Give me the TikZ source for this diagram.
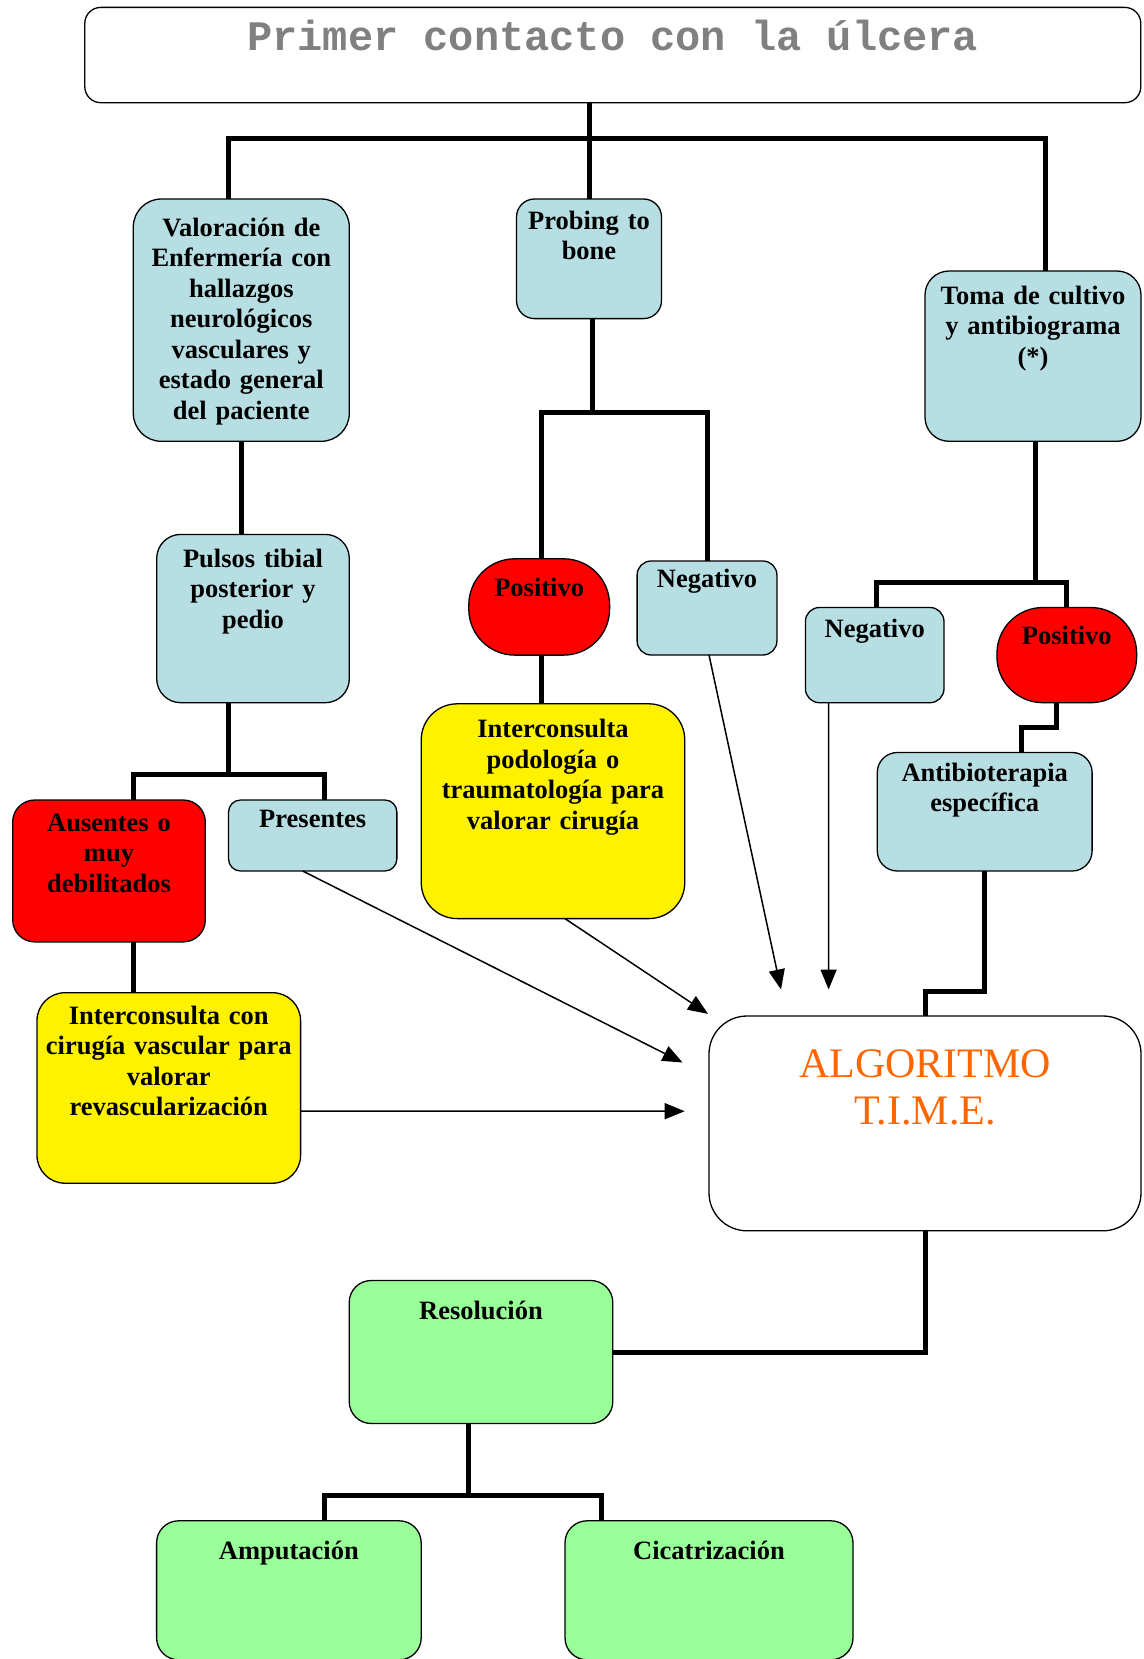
\documentclass[tikz,border=0pt]{standalone}
\usepackage{fontspec}
\setmainfont{Liberation Serif}
\newfontfamily\courierfont{Liberation Mono}
\usetikzlibrary{arrows.meta}
\definecolor{boxblue}{RGB}{183,222,226}
\definecolor{boxgreen}{RGB}{153,255,153}
\definecolor{algoorange}{RGB}{255,102,0}
\tikzstyle{box}=[draw,line width=1.3pt,rounded corners=22pt,anchor=north,align=center,inner xsep=2pt,inner ysep=4pt,outer sep=0pt,font=\bfseries\fontsize{26.5}{30.5}\selectfont]
\tikzstyle{bluebox}=[box,fill=boxblue]
\tikzstyle{redbox}=[box,fill=red]
\tikzstyle{yellowbox}=[box,fill=yellow]
\tikzstyle{greenbox}=[box,fill=boxgreen]
\tikzstyle{link}=[line width=5pt]
\tikzstyle{feed}=[line width=1.5pt,-{Triangle[length=20pt,width=16pt]}]
\newcommand{\monosp}{\hspace{25.2pt}}

\begin{document}
\begin{tikzpicture}[x=1pt,y=-1pt]
\useasboundingbox (0,0) rectangle (1143,1659);
% boxes
\node[box,rounded corners=16pt,text width=1052pt,text height=39.4pt,text depth=47.9pt,font=\courierfont\bfseries\fontsize{42}{48}\selectfont,text=gray] (title) at (612.8,7.4) {Primer\monosp contacto\monosp con\monosp la\monosp úlcera};
\node[bluebox,text width=212pt,text height=33pt,text depth=201.3pt,rounded corners=28pt] (val) at (241.3,199) {Valoración de\\Enfermería con\\hallazgos\\neurológicos\\vasculares y\\estado general\\del paciente};
\node[bluebox,text width=141pt,text height=26pt,text depth=85.6pt,rounded corners=18pt] (prob) at (589,199) {Probing to\\bone};
\node[bluebox,text width=212pt,text height=29pt,text depth=133.3pt,rounded corners=24pt] (toma) at (1033,271) {Toma de cultivo\\y antibiograma\\(*)};
\node[bluebox,text width=188.6pt,text height=29pt,text depth=131.3pt,rounded corners=24pt] (puls) at (253,534.4) {Pulsos tibial\\posterior y\\pedio};
\node[redbox,text width=188.6pt,text height=27pt,text depth=106.9pt,rounded corners=22pt] (aus) at (109,800) {Ausentes o\\muy\\debilitados};
\node[bluebox,text width=164.3pt,text height=23.5pt,text depth=39.5pt,rounded corners=12pt] (pres) at (312.7,800) {Presentes};
\node[yellowbox,text width=259.6pt,text height=27.7pt,text depth=154.8pt,rounded corners=28pt] (vasc) at (168.8,992.7) {Interconsulta con\\cirugía vascular para\\valorar\\revascularización};
\node[redbox,text width=136.8pt,text height=34pt,text depth=54.3pt,rounded corners=46pt] (pos1) at (539.2,558.8) {Positivo};
\node[bluebox,text width=135.8pt,text height=22pt,text depth=64pt,rounded corners=14pt] (neg1) at (707,561) {Negativo};
\node[yellowbox,text width=259.5pt,text height=30pt,text depth=176.8pt,rounded corners=36pt] (podo) at (553,703.8) {Interconsulta\\podología o\\traumatología para\\valorar cirugía};
\node[bluebox,text width=134.6pt,text height=26pt,text depth=61.2pt,rounded corners=14pt] (neg2) at (874.7,607.5) {Negativo};
\node[redbox,text width=135.7pt,text height=33pt,text depth=54.2pt,rounded corners=46pt] (pos2) at (1066.8,607.5) {Positivo};
\node[bluebox,text width=210.8pt,text height=24.5pt,text depth=86pt,rounded corners=20pt] (anti) at (984.7,752.5) {Antibioterapia\\específica};
\node[box,fill=white,text width=428pt,text height=57pt,text depth=149.8pt,rounded corners=38pt,font=\fontsize{42}{47}\selectfont,text=algoorange] (algo) at (925,1016) {ALGORITMO\\T.I.M.E.};
\node[greenbox,text width=259.6pt,text height=35pt,text depth=100pt,rounded corners=22pt] (reso) at (481,1280.5) {Resolución};
\node[greenbox,text width=260.6pt,text height=35pt,text depth=96pt,rounded corners=22pt] (ampu) at (288.9,1520.8) {Amputación};
\node[greenbox,text width=284pt,text height=35pt,text depth=96pt,rounded corners=22pt] (cica) at (709,1520.8) {Cicatrización};
% junctions
\coordinate (j1) at (589,138.6);
\coordinate (j2) at (592.6,412.7);
\coordinate (j3) at (228.6,774);
\coordinate (j4) at (1035,582.5);
\coordinate (j5) at (468.8,1495.4);
% tree links
\draw[link] ([xshift=-23.8pt]title.south) -- (j1);
\draw[link] (j1) -- (prob.north);
\draw[link] (j1) -| ([xshift=-12.7pt]val.north);
\draw[link] (j1) -| ([xshift=12.6pt]toma.north);
\draw[link] (val.south) -- ([xshift=-11.7pt]puls.north);
\draw[link] ([xshift=3.6pt]prob.south) -- (j2);
\draw[link] (j2) -| ([xshift=2.6pt]pos1.north);
\draw[link] (j2) -| (neg1.north);
\draw[link] ([xshift=2.6pt]pos1.south) -- ([xshift=-11.2pt]podo.north);
\draw[link] ([xshift=-24.4pt]puls.south) -- (j3);
\draw[link] (j3) -| ([xshift=24.3pt]aus.north);
\draw[link] (j3) -| ([xshift=12.2pt]pres.north);
\draw[link] ([xshift=24.3pt]aus.south) -- ([xshift=-35.5pt]vasc.north);
\draw[link] ([xshift=2pt]toma.south) -- (j4);
\draw[link] (j4) -| ([xshift=1.6pt]neg2.north);
\draw[link] (j4) -| (pos2.north);
\draw[link] ([xshift=-10.6pt]pos2.south) -- ++(0,24.3) -| ([xshift=36.6pt]anti.north);
\draw[link] (anti.south) -- ++(0,120.6) -| (algo.north);
\draw[link] (algo.south) |- (reso.east);
\draw[link] ([xshift=-12.2pt]reso.south) -- (j5);
\draw[link] (j5) -| ([xshift=36pt]ampu.north);
\draw[link] (j5) -| ([xshift=-107.9pt]cica.north);
% arrows into the algorithm
\coordinate (t1) at (682.6,1062.5);
\coordinate (t2) at (708,1013.9);
\coordinate (t3) at (781,989.5);
\coordinate (t4) at (828.6,989.5);
\coordinate (t5) at (684.7,1111.2);
\draw[feed] ([xshift=-10pt]pres.south) -- (t1);
\draw[feed] ([xshift=12pt]podo.south) -- (t2);
\draw[feed] ([xshift=2pt]neg1.south) -- (t3);
\draw[feed] ([xshift=-46.1pt]neg2.south) -- (t4);
\draw[feed] ([yshift=-23.2pt]vasc.east) -- (t5);
\end{tikzpicture}
\end{document}
